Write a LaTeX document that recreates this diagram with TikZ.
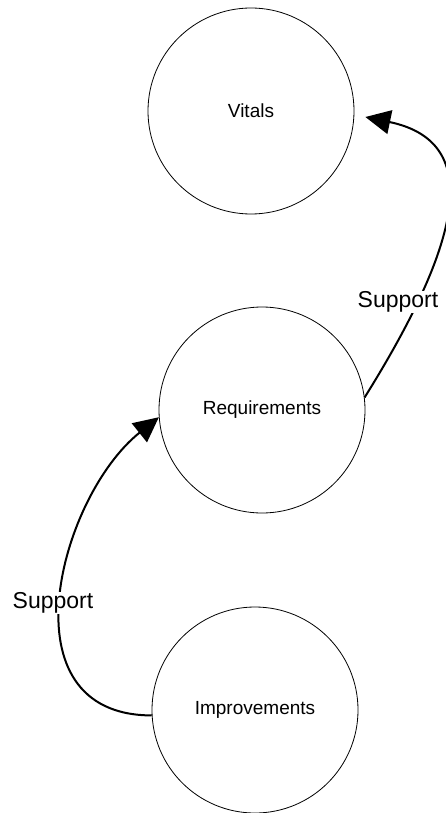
\documentclass[tikz,border=0pt]{standalone}
\usepackage{fontspec}
\setmainfont{Liberation Sans}
\usetikzlibrary{arrows.meta,calc}
\begin{document}
\begin{tikzpicture}[x=1pt,y=-1pt,
  state/.style={circle,draw=black,line width=0.8pt,minimum size=206pt,inner sep=0pt,font=\fontsize{19}{23}\selectfont},
  conn/.style={line width=2pt,-{Triangle[length=25pt,width=24pt]}},
  lbl/.style={fill=white,inner sep=1pt,font=\fontsize{23}{27}\selectfont}]
\useasboundingbox (0,0) rectangle (445,813);
\node[state] (vit) at (251,111) {Vitals};
\node[state] (req) at (262,410) {Requirements};
\node[state] (imp) at (255,710) {Improvements};
\draw[conn] (req.7) .. controls +(108,-173) and +(110,23) .. ($(vit.east)+(11,6)$);
\draw[conn] (imp.183) .. controls +(-150,0) and +(-100,80) .. (req.184);
\node[lbl] (l1) at (398,302) {Support};
\node[lbl] (l2) at (53,603) {Support};
\end{tikzpicture}
\end{document}
